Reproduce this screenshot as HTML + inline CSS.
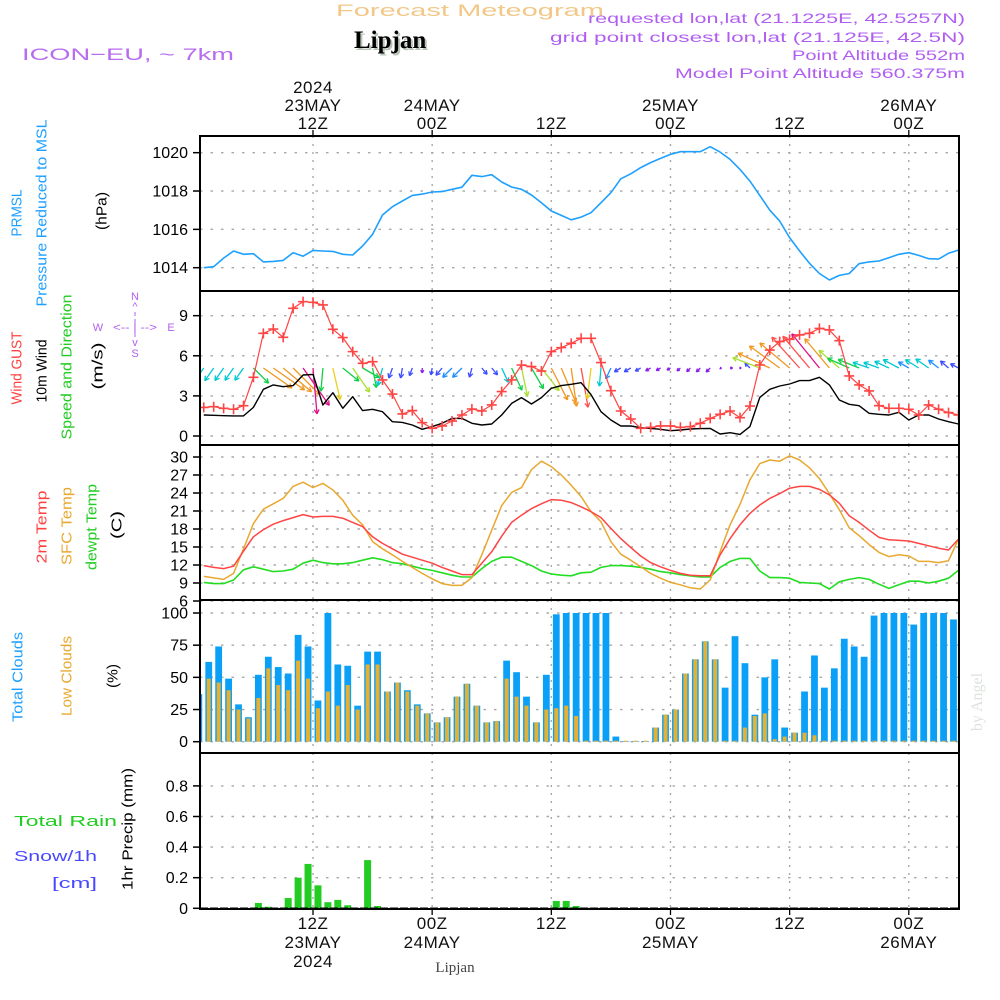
<!DOCTYPE html>
<html><head><meta charset="utf-8"><title>Forecast Meteogram - Lipjan</title>
<style>
html,body{margin:0;padding:0;background:#fff;}
svg{display:block;font-family:"Liberation Sans",sans-serif;}
</style></head>
<body>
<svg id="chart" width="1000" height="1000" viewBox="0 0 1000 1000" xmlns="http://www.w3.org/2000/svg">
<rect x="0" y="0" width="1000" height="1000" fill="#fff"/>
<!-- header -->
<text x="336" y="16" font-size="17" fill="#f2c888" textLength="268" lengthAdjust="spacingAndGlyphs">Forecast Meteogram</text>
<text x="356" y="50" font-family="Liberation Serif,serif" font-weight="bold" font-size="25" fill="#b8c4b8">Lipjan</text>
<text x="354" y="48" font-family="Liberation Serif,serif" font-weight="bold" font-size="25" fill="#000">Lipjan</text>
<text x="22" y="60" font-size="17" fill="#b86cf0" textLength="212" lengthAdjust="spacingAndGlyphs">ICON−EU, ~ 7km</text>
<g font-size="14" fill="#b05ef0" text-anchor="end">
<text x="965" y="23" textLength="377" lengthAdjust="spacingAndGlyphs">requested lon,lat (21.1225E, 42.5257N)</text>
<text x="965" y="42" textLength="415" lengthAdjust="spacingAndGlyphs">grid point closest lon,lat (21.125E, 42.5N)</text>
<text x="965" y="60" textLength="173" lengthAdjust="spacingAndGlyphs">Point Altitude 552m</text>
<text x="965" y="78" textLength="290" lengthAdjust="spacingAndGlyphs">Model Point Altitude 560.375m</text>
</g>
<!-- left labels -->
<g font-size="15" text-anchor="middle" dominant-baseline="central">
<text transform="translate(17,213) rotate(-90)" fill="#1ea0ff" textLength="47" lengthAdjust="spacingAndGlyphs">PRMSL</text>
<text transform="translate(42,213) rotate(-90)" fill="#1ea0ff" textLength="187" lengthAdjust="spacingAndGlyphs">Pressure Reduced to MSL</text>
<text transform="translate(102,211) rotate(-90)" fill="#000" textLength="38" lengthAdjust="spacingAndGlyphs">(hPa)</text>
<text transform="translate(17,368) rotate(-90)" fill="#ff4040" textLength="73" lengthAdjust="spacingAndGlyphs">Wind GUST</text>
<text transform="translate(42,371) rotate(-90)" fill="#000" textLength="63" lengthAdjust="spacingAndGlyphs">10m Wind</text>
<text transform="translate(67,367) rotate(-90)" fill="#22cc22" textLength="145" lengthAdjust="spacingAndGlyphs">Speed and Direction</text>
<text transform="translate(98,366) rotate(-90)" fill="#000" textLength="47" lengthAdjust="spacingAndGlyphs">(m/s)</text>
<text transform="translate(42,527) rotate(-90)" fill="#ff4040" textLength="73" lengthAdjust="spacingAndGlyphs">2m Temp</text>
<text transform="translate(67,526) rotate(-90)" fill="#e8a830" textLength="78" lengthAdjust="spacingAndGlyphs">SFC Temp</text>
<text transform="translate(92,527) rotate(-90)" fill="#22cc22" textLength="86" lengthAdjust="spacingAndGlyphs">dewpt Temp</text>
<text transform="translate(117,525) rotate(-90)" fill="#000" textLength="28" lengthAdjust="spacingAndGlyphs">(C)</text>
<text transform="translate(18,677) rotate(-90)" fill="#1ea0ff" textLength="90" lengthAdjust="spacingAndGlyphs">Total Clouds</text>
<text transform="translate(67,676) rotate(-90)" fill="#e8a830" textLength="80" lengthAdjust="spacingAndGlyphs">Low Clouds</text>
<text transform="translate(113,676) rotate(-90)" fill="#000" textLength="24" lengthAdjust="spacingAndGlyphs">(%)</text>
<text transform="translate(128,829) rotate(-90)" fill="#000" textLength="122" lengthAdjust="spacingAndGlyphs">1hr Precip (mm)</text>
</g>
<text x="14" y="826" font-size="15" fill="#22cc22" textLength="103" lengthAdjust="spacingAndGlyphs">Total  Rain</text>
<text x="14" y="861" font-size="15" fill="#4848ff" textLength="83" lengthAdjust="spacingAndGlyphs">Snow/1h</text>
<text x="52" y="888" font-size="15" fill="#4848ff" textLength="45" lengthAdjust="spacingAndGlyphs">[cm]</text>
<g font-size="11" fill="#b060f0" text-anchor="middle">
<text x="135" y="300">N</text><text x="135" y="310">^</text>
<text x="98" y="331">W</text><text x="171" y="331">E</text>
<text x="135" y="331" textLength="44" lengthAdjust="spacingAndGlyphs">&lt;-- | --&gt;</text>
<text x="135" y="346">v</text><text x="135" y="357">S</text>
<line x1="135" y1="312" x2="135" y2="340" stroke="#b060f0" stroke-width="1" stroke-dasharray="4,3"/>
</g>
<text transform="translate(982,702) rotate(-90)" text-anchor="middle" font-family="Liberation Serif,serif" font-size="16" fill="#dde2dd">by Angel</text>
<text x="455" y="972" text-anchor="middle" font-family="Liberation Serif,serif" font-size="15" fill="#444">Lipjan</text>
<g id="plot"></g>
</svg>
<script>
// ---------- data ----------
const tickHours = [12, 24, 36, 48, 60, 72];
const tickTimeLabels = ["12Z", "00Z", "12Z", "00Z", "12Z", "00Z"];
const tickDateLabels = ["23MAY", "24MAY", "", "25MAY", "", "26MAY"];
const tickYearLabels = ["2024", "", "", "", "", ""];
const pressure = [1014.0,1014.05,1014.5,1014.87,1014.7,1014.73,1014.3,1014.33,1014.38,1014.78,1014.6,1014.9,1014.87,1014.85,1014.7,1014.66,1015.13,1015.74,1016.75,1017.18,1017.48,1017.77,1017.84,1017.95,1017.97,1018.09,1018.2,1018.82,1018.75,1018.85,1018.47,1018.21,1018.09,1017.79,1017.39,1016.96,1016.73,1016.5,1016.64,1016.87,
1017.39,1017.91,1018.64,1018.9,1019.22,1019.48,1019.7,1019.91,1020.05,1020.05,1020.05,1020.31,1020.03,1019.65,1019.13,1018.52,1017.77,1017.0,1016.43,1015.57,1014.87,1014.23,1013.7,1013.36,1013.6,1013.7,1014.21,1014.3,1014.35,1014.52,1014.7,1014.78,1014.64,1014.47,1014.45,1014.75,1014.92];
const windGust = [2.14,2.19,2.07,2.0,2.27,4.39,7.68,8.0,7.38,9.55,10.05,10.0,9.8,7.98,7.36,6.31,5.44,5.56,4.19,3.14,1.65,1.9,1.0,0.57,0.75,1.12,1.57,2.02,1.87,2.32,3.32,4.19,5.31,5.19,4.86,6.31,6.61,6.93,7.31,7.31,
5.49,3.39,1.87,1.27,0.57,0.65,0.75,0.75,0.65,0.7,0.95,1.32,1.62,1.87,1.37,2.24,5.31,6.43,7.06,7.23,7.56,7.68,8.05,7.93,7.13,4.49,3.82,3.37,2.27,2.07,2.07,2.0,1.57,2.32,2.0,1.75,1.57];
const windSpeed = [1.57,1.55,1.52,1.5,1.5,2.14,3.49,3.82,3.69,3.77,4.56,4.61,2.32,3.24,2.07,2.94,1.9,2.0,1.82,1.07,1.02,0.82,0.5,0.7,0.95,1.32,1.32,0.95,0.82,0.9,1.57,2.44,2.87,2.39,2.87,3.57,3.77,3.87,3.99,3.1,
1.82,1.2,0.75,0.75,0.62,0.57,0.5,0.4,0.45,0.52,0.55,0.57,0.15,0.25,0.12,0.7,2.89,3.49,3.74,3.89,4.14,4.14,4.39,3.82,2.69,2.37,2.27,1.7,1.62,1.57,1.77,1.2,1.57,1.57,1.27,1.07,0.9];
const windDir = [35,35,35,35,35,315,305,305,310,315,325,355,5,347,309,325,300,349,15,20,10,20,0,10,40,45,45,15,320,320,335,335,348,330,322,333,337,352,350,7,5,25,
60,60,60,60,60,60,50,45,45,45,290,270,270,135,111,115,126,130,138,140,141,140,131,114,112,109,110,115,118,120,122,125,128,131,118];
const temp2m = [11.9,11.6,11.4,11.8,14.3,16.7,17.9,18.8,19.4,19.9,20.4,20.0,20.1,20.1,19.8,19.1,18.4,16.7,15.6,14.7,13.8,13.3,12.8,12.3,11.6,11.0,10.4,10.4,12.3,14.2,16.8,19.1,20.3,21.4,22.2,22.9,22.8,22.4,21.7,20.9,
19.9,18.1,16.4,14.9,13.5,12.4,11.7,11.1,10.6,10.3,10.2,10.2,13.7,16.4,18.7,20.6,22.0,23.1,23.9,24.8,25.1,25.1,24.6,23.7,22.3,20.2,19.1,17.8,16.6,16.2,16.1,16.0,15.6,15.2,14.8,14.5,16.3];
const tempSfc = [10.1,9.85,9.6,10.6,14.7,18.9,21.3,22.2,23.1,25.1,25.8,24.9,25.6,24.5,22.8,20.3,18.7,15.9,14.7,13.7,12.6,11.6,10.6,9.7,8.9,8.6,8.6,9.9,13.7,17.8,21.9,24.1,24.9,27.9,29.3,28.4,27.0,25.3,23.4,20.9,
19.2,15.9,13.8,12.8,11.7,10.6,9.8,9.1,8.7,8.2,8.0,9.5,14.2,18.7,22.1,26.2,28.9,29.5,29.3,30.2,29.5,28.2,26.4,23.9,21.2,18.2,16.9,15.4,14.1,13.4,13.7,13.5,12.6,12.6,12.4,12.7,16.3];
const dewpoint = [9.1,8.9,8.9,9.5,11.2,11.7,11.3,10.9,11.0,11.3,12.3,12.8,12.4,12.2,12.2,12.4,12.8,13.2,12.9,12.4,12.2,11.8,11.4,11.1,10.7,10.3,10.0,10.0,11.4,12.6,13.3,13.3,12.6,11.9,11.0,10.5,10.3,10.2,10.7,10.8,
11.6,11.9,11.9,11.8,11.6,11.3,10.9,10.7,10.4,10.2,10.0,10.0,11.6,12.6,13.1,13.1,11.0,9.9,9.9,9.8,9.1,9.0,8.9,8.0,9.2,9.6,9.9,9.6,8.8,8.1,8.7,9.3,9.3,9.0,9.3,9.8,11.1];
const totalClouds = [37,62,74,49,29,19,52,66,58,53,83,74,32,100,60,59,28,70,70,39,46,40,29,22,15,19,35,45,28,15,16,63,54,35,15,52,99,100,100,100,100,100,4,0.5,0.5,0.5,11,21,25,53,64,78,64,42,82,61,21,50,64,11,7,39,67,42,57,80,74,66,98,100,100,100,91,100,100,100,95];
const lowClouds = [35,49,46,40,25,18,34,57,44,40,63,49,26,39,28,44,25,60,60,39,46,39,28,22,15,19,35,45,28,15,16,49,35,28,15,25,26,28,20,0,0,0,0,0,0,0,11,21,25,53,64,78,64,0,0,11,20,22,2,4,7,7,5,0,0,0,0,0,0,0,0,0,0,0,0,0,0];
const precip = [0,0,0,0,0,0,0.035,0.01,0.003,0.067,0.2,0.29,0.15,0.04,0.055,0.02,0,0.315,0.015,0,0,0,0,0,0,0,0,0,0,0,0,0,0,0,0,0,0.048,0.048,0.015,0,0,0,0,0,0,0,0,0,0,0,0,0,0,0,0,0,0,0,0,0,0,0,0,0,0,0,0,0,0,0,0,0,0,0,0,0,0];
const pressureTicks = [1014, 1016, 1018, 1020];
const windTicks = [0, 3, 6, 9];
const tempTicks = [6, 9, 12, 15, 18, 21, 24, 27, 30];
const cloudTicks = [0, 25, 50, 75, 100];
const precipTicks = [0, 0.2, 0.4, 0.6, 0.8];

// ---------- layout ----------
const NS = "http://www.w3.org/2000/svg";
const LEFT = 200, RIGHT = 959;
const x = t => 313 + (t - 12) * 9.93;
const lineT = i => i + 1;
const barT = i => i + 0.5;
const yP = v => 267.7 - (v - 1014) * 19.17;
const yW = v => 436 - v * 13.37;
const yT = v => 457 + (30 - v) * 6;
const yC = v => 741.7 - v * 1.287;
const yR = v => 908.3 - v * 153;
const panels = [[136, 291], [291, 445], [445, 600], [600, 753], [753, 909]];
const plot = document.getElementById("plot");
function el(tag, attrs, parent) {
  const e = document.createElementNS(NS, tag);
  for (const k in attrs) e.setAttribute(k, attrs[k]);
  (parent || plot).appendChild(e);
  return e;
}
const defs = el("defs", {});
panels.forEach((p, k) => {
  const cp = el("clipPath", { id: "clip" + k }, defs);
  el("rect", { x: LEFT, y: p[0], width: RIGHT - LEFT, height: p[1] - p[0] }, cp);
});

function hgrid(ticks, yf, k, fmt) {
  const g = el("g", {});
  
  
  ticks.forEach(v => {
    const y = yf(v);
    const gl = el("line", { x1: LEFT, x2: RIGHT, y1: y, y2: y, stroke: "#a8a8a8", "stroke-width": 1.4, "stroke-dasharray": "2.5,8" }, g);
    
    
    el("line", { x1: LEFT - 7, x2: LEFT, y1: y, y2: y, stroke: "#000", "stroke-width": 1.5 }, g);
    const tx = el("text", { x: LEFT - 12, y: y + 5.5, "font-size": 16, "text-anchor": "end", fill: "#000" }, g);
    tx.textContent = fmt(v);
    
    
  });
}
hgrid(pressureTicks, yP, 0, v => String(v));
hgrid(windTicks, yW, 1, v => String(v));
hgrid(tempTicks, yT, 2, v => String(v));
hgrid(cloudTicks, yC, 3, v => String(v));
hgrid(precipTicks, yR, 4, v => v === 0 ? "0" : v.toFixed(1));

tickHours.forEach((h, k) => {
  const xx = x(h);
  panels.forEach(p => {
    const vl = el("line", { x1: xx, x2: xx, y1: p[0], y2: p[1], stroke: "#a8a8a8", "stroke-width": 1.4, "stroke-dasharray": "2,6" });
    
    
  });
  el("line", { x1: xx, x2: xx, y1: 130, y2: 136, stroke: "#000", "stroke-width": 1.3 });
  el("line", { x1: xx, x2: xx, y1: 909, y2: 915, stroke: "#000", "stroke-width": 1.3 });
  const lbl = (s, y, name) => {
    if (!s) return;
    const t = el("text", { x: xx, y: y, "font-size": 17, "text-anchor": "middle", fill: "#111", "letter-spacing": "0.5" });
    t.textContent = s;
    
    
  };
  lbl(tickYearLabels[k], 93, 'top-year-label');
  lbl(tickDateLabels[k], 111, 'top-date-label');
  lbl(tickTimeLabels[k], 129, 'top-time-label');
  lbl(tickTimeLabels[k], 929, 'bottom-time-label');
  lbl(tickDateLabels[k], 948, 'bottom-date-label');
  lbl(tickYearLabels[k], 967, 'bottom-year-label');
});

function line(arr, yf, color, w, k, name) {
  const pts = arr.map((v, i) => x(lineT(i)).toFixed(1) + "," + yf(v).toFixed(1)).join(" ");
  const pl = el("polyline", { points: pts, fill: "none", stroke: color, "stroke-width": w, "stroke-linejoin": "round", "clip-path": "url(#clip" + k + ")" });
  
  
  return pl;
}

line(pressure, yP, "#1ea0ff", 1.6, 0, "pressure-line");

function speedColor(s) {
  const stops = [[0.6, "#8a1ee8"], [1.1, "#3c4cff"], [1.45, "#1e90ff"], [1.9, "#00c8d0"], [2.5, "#10d048"], [3.0, "#a8e030"], [3.3, "#e8d020"], [3.95, "#f09820"], [4.3, "#ff5050"], [99, "#e0108a"]];
  for (const st of stops) if (s < st[0]) return st[1];
  return "#e0108a";
}
const arrowG = el("g", { "clip-path": "url(#clip1)" });


windDir.forEach((d, i) => {
  const s = windSpeed[i];
  const to = (d + 180) * Math.PI / 180;
  const L = 10 * s;
  const x0 = x(lineT(i)), y0 = 368;
  const x1 = x0 + Math.sin(to) * L, y1 = y0 - Math.cos(to) * L;
  const c = speedColor(s);
  const a = el("g", { stroke: c, "stroke-width": 1.3, fill: "none" }, arrowG);
  
  
  el("line", { x1: x0, y1: y0, x2: x1, y2: y1 }, a);
  const hl = Math.min(5, 1.5 + L * 0.35);
  [0.5, -0.5].forEach(o => {
    const ang = to + Math.PI + o;
    el("line", { x1: x1, y1: y1, x2: x1 + Math.sin(ang) * hl, y2: y1 - Math.cos(ang) * hl }, a);
  });
});
line(windSpeed, yW, "#000", 1.4, 1, "wind-speed-line");
line(windGust, yW, "#ff4444", 1.2, 1, "wind-gust-line");
const gustG = el("g", { stroke: "#ff4444", "stroke-width": 1.6, "clip-path": "url(#clip1)" });


windGust.forEach((v, i) => {
  const cx = x(lineT(i)), cy = yW(v);
  el("path", { d: `M${cx - 5},${cy}H${cx + 5}M${cx},${cy - 5}V${cy + 5}` }, gustG);
});

line(dewpoint, yT, "#22dd22", 1.6, 2, "dewpoint-line");
line(tempSfc, yT, "#e8a830", 1.5, 2, "sfc-temp-line");
line(temp2m, yT, "#ff4444", 1.5, 2, "temp-2m-line");

const cg = el("g", { "clip-path": "url(#clip3)" });


totalClouds.forEach((v, i) => {
  const cx = x(barT(i));
  const b = el("rect", { x: cx - 3.4, y: yC(v), width: 6.8, height: yC(0) - yC(v), fill: "#0aa0f8" }, cg);
  
  
  const lv = lowClouds[i];
  const lb = el("rect", { x: cx - 2, y: yC(lv) - (lv > 0 ? 0 : 1), width: 4, height: Math.max(1, yC(0) - yC(lv)), fill: "#e8b030" }, cg);
  
  
});

const pg = el("g", { "clip-path": "url(#clip4)" });


precip.forEach((v, i) => {
  if (v <= 0) return;
  const cx = x(barT(i));
  const b = el("rect", { x: cx - 3.5, y: yR(v), width: 7, height: yR(0) - yR(v), fill: "#22cc22" }, pg);
  
  
});
el("line", { x1: LEFT, x2: RIGHT, y1: yR(0), y2: yR(0), stroke: "#000", "stroke-width": 1.6, "stroke-dasharray": "8,2" });

panels.forEach((p, k) => {
  const f = el("rect", { x: LEFT, y: p[0], width: RIGHT - LEFT, height: p[1] - p[0], fill: "none", stroke: "#000", "stroke-width": 2 });
  
  
});
</script>
</body></html>
